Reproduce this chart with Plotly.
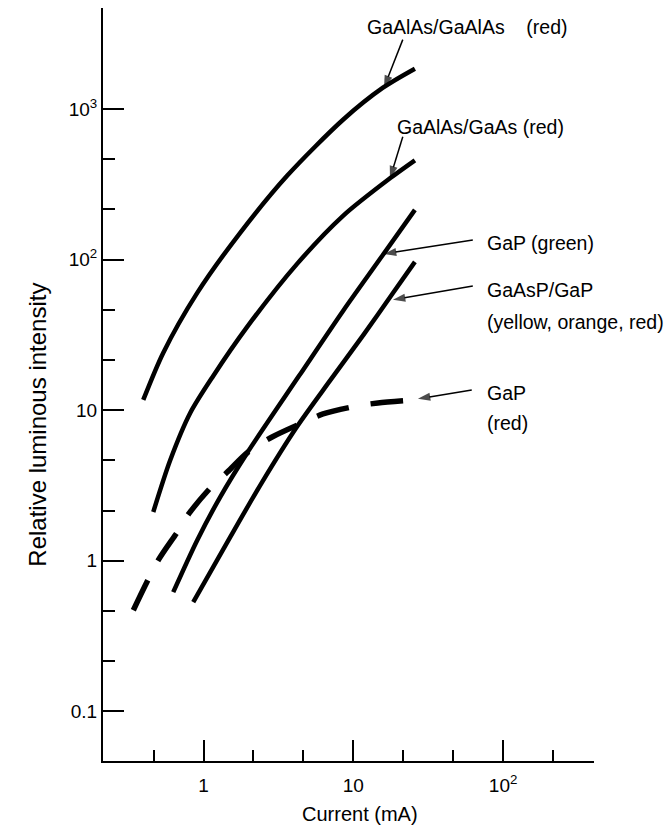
import numpy as np
import plotly.graph_objects as go

# ---------------- data ----------------
current_gaalas_gaalas = [0.396, 0.538, 0.908, 1.757, 3.614, 8.54, 15.78, 25.78]
intensity_gaalas_gaalas = [11.7, 24.0, 60.1, 150.5, 359.8, 847.6, 1383, 1849]

current_gaalas_gaas = [0.462, 0.600, 0.815, 1.161, 1.956, 4.214, 8.54, 17.57, 25.78]
intensity_gaalas_gaas = [2.11, 4.67, 9.58, 16.88, 35.7, 93.6, 195.2, 346.3, 456.0]

current_gap_green = [0.628, 0.908, 1.292, 1.956, 4.345, 8.54, 15.78, 25.78]
intensity_gap_green = [0.619, 1.37, 2.65, 5.20, 16.9, 45.6, 107.5, 213.6]

current_gaasp_gap = [0.854, 1.507, 2.463, 4.15, 6.99, 11.69, 18.4, 25.78]
intensity_gaasp_gap = [0.532, 1.437, 3.334, 7.62, 15.7, 31.6, 60.0, 96.5]

current_gap_red = [0.340, 0.499, 0.668, 0.803, 1.126, 1.441, 1.986, 2.871, 4.55, 6.28, 10.58, 14.61, 25.0]
intensity_gap_red = [0.470, 1.01, 1.55, 2.07, 3.09, 3.88, 5.28, 6.64, 8.22, 9.44, 10.67, 11.16, 11.69]

x_tick_vals = [1, 10, 100]
x_tick_text = ["1", "10", "10<sup>2</sup>"]
y_tick_vals = [0.1, 1, 10, 100, 1000]
y_tick_text = ["0.1", "1", "10", "10<sup>2</sup>", "10<sup>3</sup>"]

x_minor_exp = [-1/3, 1/3, 2/3, 4/3, 5/3, 7/3]
y_minor_exp = [-2/3, -1/3, 1/3, 2/3, 4/3, 5/3, 7/3, 8/3]

label_texts = [
    "GaAlAs/GaAlAs\u00a0\u00a0\u00a0 (red)",
    "GaAlAs/GaAs (red)",
    "GaP (green)",
    "GaAsP/GaP",
    "(yellow, orange, red)",
    "GaP",
    "(red)",
]

# ---------------- layout / styling ----------------
FONT = "Liberation Sans, Arial, sans-serif"
label_pos = [(11.97, 3516), (18.97, 760), (75.5, 129), (75.5, 62.9),
             (75.5, 38.6), (75.5, 13.0), (75.5, 8.22)]
# arrows: (tail_x, tail_y, tip_x, tip_y) in data units
arrow_pos = [
    (21.4, 2884, 16.02, 1383),
    (21.4, 653, 17.57, 346),
    (62.8, 134.9, 16.02, 109),
    (62.8, 66.8, 18.4, 54),
    (61.8, 13.6, 27.0, 11.9),
]

fig = go.Figure()

solid = [
    (current_gaalas_gaalas, intensity_gaalas_gaalas),
    (current_gaalas_gaas, intensity_gaalas_gaas),
    (current_gap_green, intensity_gap_green),
    (current_gaasp_gap, intensity_gaasp_gap),
]
for xs, ys in solid:
    fig.add_trace(go.Scatter(x=xs, y=ys, mode="lines",
                             line=dict(color="black", width=4.5, shape="spline", smoothing=0.8),
                             hoverinfo="skip", showlegend=False))

fig.add_trace(go.Scatter(x=current_gap_red, y=intensity_gap_red, mode="lines",
                         line=dict(color="black", width=5.5, dash="33px,22px",
                                   shape="spline", smoothing=0.8),
                         hoverinfo="skip", showlegend=False))

# pointer arrows: thin shaft + arrow marker at the tip
for tx, ty, hx, hy in arrow_pos:
    fig.add_trace(go.Scatter(x=[tx, hx], y=[ty, hy], mode="lines+markers",
                             line=dict(color="black", width=1.5),
                             marker=dict(symbol="arrow", size=[0, 13], angleref="previous",
                                         color="black", line=dict(width=0)),
                             hoverinfo="skip", showlegend=False, cliponaxis=False))

annotations = []
for txt, (lx, ly) in zip(label_texts, label_pos):
    annotations.append(dict(x=np.log10(lx), y=np.log10(ly), xref="x", yref="y",
                            text=txt, showarrow=False, xanchor="left", yanchor="middle",
                            font=dict(family=FONT, size=19.5, color="black")))

W, H = 668, 837
ML, MR, MT, MB = 103, 74, 8, 76
pw, ph = W - ML - MR, H - MT - MB


def px_to_paper(px, py):
    return (px - ML) / pw, (H - MB - py) / ph


yt_x, yt_y = px_to_paper(21.7, 424.5)
xt_x, xt_y = px_to_paper(360, 827)
annotations.append(dict(x=yt_x, y=yt_y, xref="paper", yref="paper", text="Relative luminous intensity",
                        showarrow=False, textangle=-90,
                        font=dict(family=FONT, size=24, color="black")))
annotations.append(dict(x=xt_x, y=xt_y, xref="paper", yref="paper", text="Current (mA)",
                        showarrow=False, font=dict(family=FONT, size=20, color="black")))

axis_common = dict(type="log", showline=True, linecolor="black", linewidth=2,
                   ticks="inside", ticklen=21, tickwidth=2, tickcolor="black",
                   showgrid=False, zeroline=False, mirror=False,
                   tickfont=dict(family=FONT, size=19, color="black"))

fig.update_layout(
    width=W, height=H,
    margin=dict(l=ML, r=MR, t=MT, b=MB),
    paper_bgcolor="white", plot_bgcolor="white",
    showlegend=False,
    xaxis=dict(**axis_common, range=[-0.671, 2.607], tickmode="array",
               tickvals=x_tick_vals, ticktext=x_tick_text, ticklabelstandoff=6,
               minor=dict(tickmode="array", tickvals=[10 ** e for e in x_minor_exp],
                          ticks="inside", ticklen=11, tickwidth=2, tickcolor="black", showgrid=False)),
    yaxis=dict(**axis_common, range=[-1.329, 3.670], tickmode="array",
               tickvals=y_tick_vals, ticktext=y_tick_text,
               minor=dict(tickmode="array", tickvals=[10 ** e for e in y_minor_exp],
                          ticks="inside", ticklen=12, tickwidth=2, tickcolor="black", showgrid=False)),
    annotations=annotations,
)

fig.write_html("out.html")
